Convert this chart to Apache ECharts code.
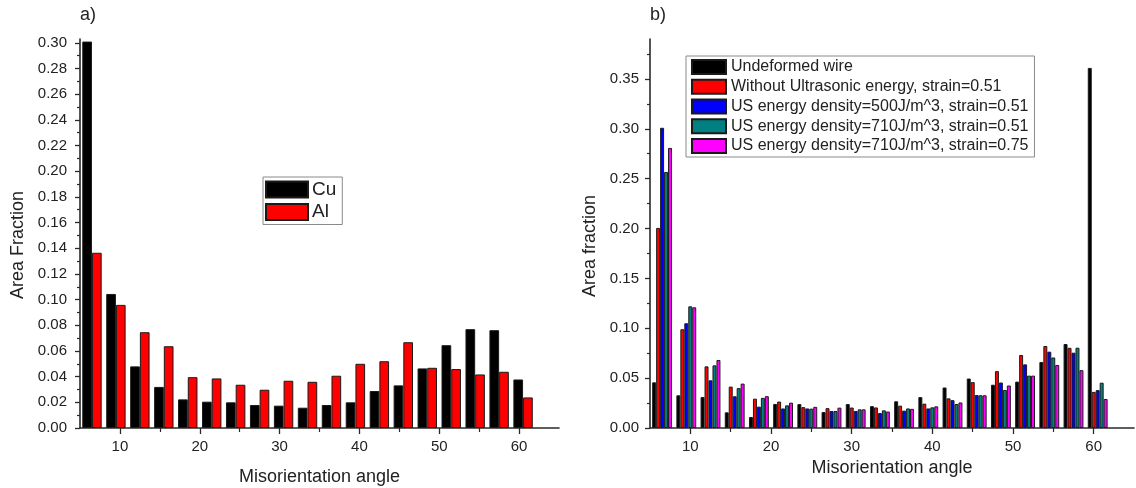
<!DOCTYPE html>
<html>
<head>
<meta charset="utf-8">
<script src="https://cdn.jsdelivr.net/npm/echarts@6/dist/echarts.min.js"></script>
<style>
html,body{margin:0;padding:0;background:#fff;}
#c{width:1136px;height:488px;}
</style>
</head>
<body>
<div id="c"></div>
<script>
// ---- data ----
const angles = [6.5, 9.5, 12.5, 15.5, 18.5, 21.5, 24.5, 27.5, 30.5, 33.5, 36.5, 39.5, 42.5, 45.5, 48.5, 51.5, 54.5, 57.5, 60.5];

// panel a)
const cuFrac = [0.301, 0.1044, 0.048, 0.032, 0.0223, 0.0205, 0.020, 0.0179, 0.0174, 0.0158, 0.0179, 0.020, 0.0288, 0.0332, 0.0464, 0.0645, 0.077, 0.0762, 0.0378];
const alFrac = [0.1365, 0.0959, 0.0746, 0.0637, 0.0396, 0.0386, 0.0337, 0.0298, 0.0368, 0.036, 0.0407, 0.050, 0.052, 0.0668, 0.0469, 0.0459, 0.0417, 0.0438, 0.0238];

// panel b)
const undeformed = [0.0458, 0.0328, 0.031, 0.0157, 0.011, 0.0241, 0.024, 0.016, 0.024, 0.0219, 0.0268, 0.031, 0.0406, 0.0496, 0.0434, 0.0465, 0.0662, 0.0842, 0.361];
const withoutUS = [0.2006, 0.099, 0.0618, 0.0415, 0.0294, 0.0265, 0.0209, 0.0199, 0.0205, 0.0206, 0.0224, 0.0244, 0.0297, 0.046, 0.057, 0.0732, 0.0822, 0.0804, 0.0362];
const us500s051 = [0.301, 0.105, 0.0478, 0.0318, 0.0214, 0.0196, 0.0196, 0.017, 0.017, 0.015, 0.0174, 0.0196, 0.0279, 0.033, 0.0456, 0.0638, 0.0765, 0.0755, 0.038];
const us710s051 = [0.2567, 0.122, 0.0628, 0.040, 0.0302, 0.0227, 0.0194, 0.017, 0.0187, 0.0177, 0.0196, 0.0207, 0.024, 0.0328, 0.0381, 0.0525, 0.0707, 0.0805, 0.0454];
const us710s075 = [0.2808, 0.121, 0.0682, 0.0445, 0.0319, 0.0254, 0.0212, 0.0204, 0.0187, 0.0165, 0.0192, 0.0217, 0.0256, 0.0328, 0.0426, 0.0525, 0.0632, 0.058, 0.0291];

const seriesNamesA = ['Cu', 'Al'];
const seriesNamesB = ['Undeformed wire', 'Without Ultrasonic energy, strain=0.51', 'US energy density=500J/m^3, strain=0.51', 'US energy density=710J/m^3, strain=0.51', 'US energy density=710J/m^3, strain=0.75'];

// ticks
const xMajorTicks = [10, 20, 30, 40, 50, 60];
const xMinorTicks = [15, 25, 35, 45, 55];
const yMajorA = [0, 0.02, 0.04, 0.06, 0.08, 0.10, 0.12, 0.14, 0.16, 0.18, 0.20, 0.22, 0.24, 0.26, 0.28, 0.30];
const yMinorA = [0.01, 0.03, 0.05, 0.07, 0.09, 0.11, 0.13, 0.15, 0.17, 0.19, 0.21, 0.23, 0.25, 0.27, 0.29];
const yMajorB = [0, 0.05, 0.10, 0.15, 0.20, 0.25, 0.30, 0.35];
const yMinorB = [0.025, 0.075, 0.125, 0.175, 0.225, 0.275, 0.325, 0.375];

// ---- styling ----
const FONT = '"Liberation Sans", Arial, sans-serif';
const TXT = '#222';
const AX = '#2a2a2a';
const coloursA = ['#000000', '#ff0000'];
const coloursB = ['#000000', '#ff0000', '#0000ff', '#008080', '#ff00ff'];

function pairs(vals) { return angles.map((a, i) => [a, vals[i]]); }

function mainX(gi, nameGap) {
  return {
    type: 'value', gridIndex: gi, min: 5, max: 65,
    name: 'Misorientation angle', nameLocation: 'middle', nameGap: nameGap,
    nameTextStyle: { fontFamily: FONT, fontSize: 18, color: TXT },
    axisLine: { show: true, onZero: false, lineStyle: { color: AX, width: 1.6 } },
    axisTick: { show: true, length: 6, customValues: xMajorTicks, lineStyle: { color: AX, width: 1.3 } },
    axisLabel: { customValues: xMajorTicks, fontFamily: FONT, fontSize: 15, color: TXT, margin: 11 },
    splitLine: { show: false }
  };
}
function minorX(gi) {
  return {
    type: 'value', gridIndex: gi, min: 5, max: 65, position: 'bottom',
    axisLine: { show: false },
    axisTick: { show: true, length: 4, customValues: xMinorTicks, lineStyle: { color: AX, width: 1.2 } },
    axisLabel: { show: false }, splitLine: { show: false }
  };
}
function mainY(gi, max, majors, margin) {
  return {
    type: 'value', gridIndex: gi, min: 0, max: max,
    axisLine: { show: true, onZero: false, lineStyle: { color: AX, width: 1.6 } },
    axisTick: { show: true, length: 5, customValues: majors, lineStyle: { color: AX, width: 1.3 } },
    axisLabel: { customValues: majors, formatter: v => v.toFixed(2), fontFamily: FONT, fontSize: 15, color: TXT, margin: margin },
    splitLine: { show: false }
  };
}
function minorY(gi, max, minors) {
  return {
    type: 'value', gridIndex: gi, min: 0, max: max, position: 'left',
    axisLine: { show: false },
    axisTick: { show: true, length: 3, customValues: minors, lineStyle: { color: AX, width: 1.2 } },
    axisLabel: { show: false }, splitLine: { show: false }
  };
}

const seriesA = [cuFrac, alFrac].map((vals, i) => ({
  type: 'bar', name: seriesNamesA[i], xAxisIndex: 0, yAxisIndex: 0,
  data: pairs(vals), barGap: '0%', barCategoryGap: '19%',
  itemStyle: { color: coloursA[i], borderColor: '#1a1a1a', borderWidth: 1 },
  animation: false
}));
const seriesB = [undeformed, withoutUS, us500s051, us710s051, us710s075].map((vals, i) => ({
  type: 'bar', name: seriesNamesB[i], xAxisIndex: 2, yAxisIndex: 2,
  data: pairs(vals), barGap: '0%', barCategoryGap: '18%',
  itemStyle: { color: coloursB[i], borderColor: '#1a1a1a', borderWidth: 1 },
  animation: false
}));

const chart = echarts.init(document.getElementById('c'), null, { renderer: 'canvas' });
chart.setOption({
  backgroundColor: '#ffffff',
  animation: false,
  textStyle: { fontFamily: FONT },
  grid: [
    { left: 80, top: 39, width: 479, height: 389, containLabel: false, outerBoundsMode: 'none' },
    { left: 650, top: 39, width: 484, height: 389, containLabel: false, outerBoundsMode: 'none' }
  ],
  xAxis: [mainX(0, 40), minorX(0), mainX(1, 30), minorX(1)],
  yAxis: [mainY(0, 0.303, yMajorA, 13), minorY(0, 0.303, yMinorA), mainY(1, 0.39, yMajorB, 11), minorY(1, 0.39, yMinorB)],
  legend: [
    {
      data: seriesNamesA, orient: 'vertical', left: 263, top: 177,
      itemWidth: 42, itemHeight: 16, itemGap: 3.5, padding: [3, 6, 3, 2],
      icon: 'rect', borderColor: '#8a8a8a', borderWidth: 1, backgroundColor: '#fff',
      textStyle: { fontFamily: FONT, fontSize: 19, lineHeight: 19, color: TXT, padding: [0, 0, 0, -1] },
      selectedMode: false
    },
    {
      data: seriesNamesB, orient: 'vertical', left: 686, top: 56,
      itemWidth: 34, itemHeight: 14, itemGap: 3.75, padding: [3, 6, 3, 5],
      icon: 'rect', borderColor: '#8a8a8a', borderWidth: 1, backgroundColor: '#fff',
      textStyle: { fontFamily: FONT, fontSize: 16, lineHeight: 16, color: TXT },
      selectedMode: false
    }
  ],
  graphic: [
    { type: 'text', left: 80, top: 6, style: { text: 'a)', font: '18px ' + FONT, fill: TXT } },
    { type: 'text', left: 650, top: 6, style: { text: 'b)', font: '18px ' + FONT, fill: TXT } },
    { type: 'text', x: 18, y: 245, rotation: Math.PI / 2, style: { text: 'Area Fraction', font: '18px ' + FONT, fill: TXT, align: 'center', verticalAlign: 'middle' } },
    { type: 'text', x: 590, y: 246, rotation: Math.PI / 2, style: { text: 'Area fraction', font: '18px ' + FONT, fill: TXT, align: 'center', verticalAlign: 'middle' } }
  ],
  series: seriesA.concat(seriesB)
});
</script>
</body>
</html>
